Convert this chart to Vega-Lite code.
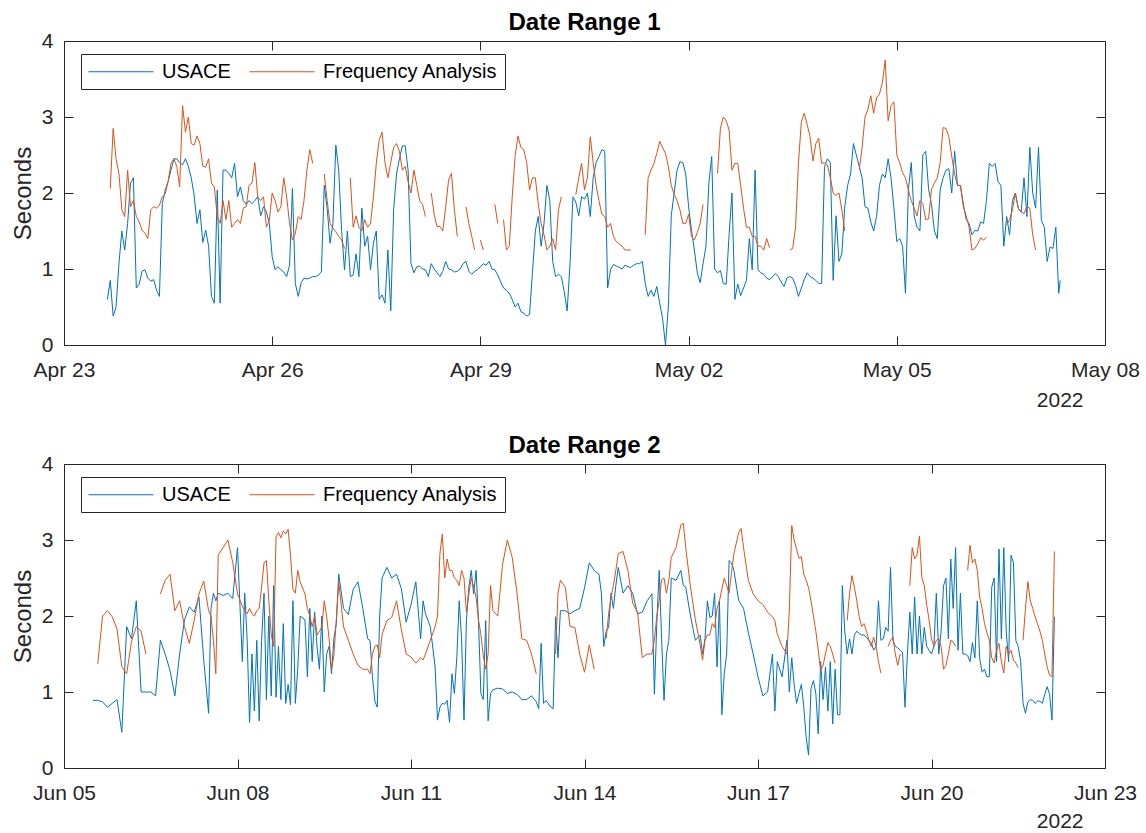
{
  "$schema": "https://vega.github.io/schema/vega-lite/v6.json",
  "padding": {"left": 11, "top": 11, "right": 0, "bottom": 0},
  "config": {
    "font": "Liberation Sans",
    "view": {"stroke": null},
    "axis": {"grid": false, "domainColor": "#262626", "tickColor": "#262626", "labelColor": "#262626", "titleColor": "#262626", "tickSize": -9, "tickWidth": 1, "domainWidth": 1, "labelFontSize": 21, "titleFontSize": 24, "titleFontWeight": "normal", "labelFlush": false, "labelOverlap": false, "labelBound": false},
    "title": {"fontSize": 24, "fontWeight": "bold", "color": "#000000", "anchor": "middle", "frame": "group", "baseline": "alphabetic", "offset": -5},
    "legend": {"orient": "none", "legendX": 17, "legendY": 13, "direction": "horizontal", "title": null, "symbolType": "M-1,0H5.5", "symbolSize": 400, "symbolStrokeWidth": 1, "labelFontSize": 20, "labelColor": "#000000", "labelOffset": 53, "columnPadding": 16, "padding": 7, "strokeColor": "#262626", "fillColor": "#ffffff", "labelLimit": 400}
  },
  "datasets": {
    "range1": [
      {"t":"2022-04-23T15:00","u":0.6,"f":null},{"t":"2022-04-23T16:00","u":0.85,"f":2.06},{"t":"2022-04-23T17:00","u":0.38,"f":2.85},{"t":"2022-04-23T18:00","u":0.5,"f":2.45},{"t":"2022-04-23T19:00","u":1.07,"f":2.26},{"t":"2022-04-23T20:00","u":1.5,"f":1.78},{"t":"2022-04-23T21:00","u":1.25,"f":1.69},{"t":"2022-04-23T22:00","u":1.6,"f":2.3},{"t":"2022-04-23T23:00","u":2.13,"f":1.82},
      {"t":"2022-04-24T00:00","u":2.2,"f":1.9},{"t":"2022-04-24T01:00","u":0.75,"f":1.69},{"t":"2022-04-24T02:00","u":0.8,"f":1.62},{"t":"2022-04-24T03:00","u":0.97,"f":1.51},{"t":"2022-04-24T04:00","u":0.99,"f":1.47},{"t":"2022-04-24T05:00","u":0.88,"f":1.4},{"t":"2022-04-24T06:00","u":0.84,"f":1.78},{"t":"2022-04-24T07:00","u":0.86,"f":1.82},{"t":"2022-04-24T08:00","u":0.72,"f":1.8},{"t":"2022-04-24T09:00","u":0.64,"f":1.84},{"t":"2022-04-24T10:00","u":1.86,"f":1.95},{"t":"2022-04-24T11:00","u":2.04,"f":1.99},{"t":"2022-04-24T12:00","u":2.15,"f":2.15},{"t":"2022-04-24T13:00","u":2.3,"f":2.39},{"t":"2022-04-24T14:00","u":2.45,"f":2.45},{"t":"2022-04-24T15:00","u":2.45,"f":2.35},{"t":"2022-04-24T16:00","u":2.4,"f":2.08},{"t":"2022-04-24T17:00","u":2.37,"f":3.15},{"t":"2022-04-24T18:00","u":2.45,"f":2.8},{"t":"2022-04-24T19:00","u":2.35,"f":3.0},{"t":"2022-04-24T20:00","u":2.2,"f":2.65},{"t":"2022-04-24T21:00","u":1.97,"f":2.63},{"t":"2022-04-24T22:00","u":1.6,"f":2.75},{"t":"2022-04-24T23:00","u":1.78,"f":2.65},
      {"t":"2022-04-25T00:00","u":1.35,"f":2.35},{"t":"2022-04-25T01:00","u":1.51,"f":2.34},{"t":"2022-04-25T02:00","u":1.3,"f":2.45},{"t":"2022-04-25T03:00","u":0.64,"f":2.13},{"t":"2022-04-25T04:00","u":0.55,"f":2.08},{"t":"2022-04-25T05:00","u":2.04,"f":1.69},{"t":"2022-04-25T06:00","u":0.55,"f":1.6},{"t":"2022-04-25T07:00","u":2.3,"f":1.9},{"t":"2022-04-25T08:00","u":2.3,"f":1.65},{"t":"2022-04-25T09:00","u":2.26,"f":1.9},{"t":"2022-04-25T10:00","u":2.2,"f":1.55},{"t":"2022-04-25T11:00","u":2.39,"f":1.6},{"t":"2022-04-25T12:00","u":1.95,"f":1.65},{"t":"2022-04-25T13:00","u":2.08,"f":1.6},{"t":"2022-04-25T14:00","u":1.9,"f":1.8},{"t":"2022-04-25T15:00","u":1.85,"f":1.82},{"t":"2022-04-25T16:00","u":1.9,"f":2.1},{"t":"2022-04-25T17:00","u":1.86,"f":2.13},{"t":"2022-04-25T18:00","u":1.9,"f":2.4},{"t":"2022-04-25T19:00","u":1.95,"f":1.95},{"t":"2022-04-25T20:00","u":1.7,"f":1.9},{"t":"2022-04-25T21:00","u":1.82,"f":1.95},{"t":"2022-04-25T22:00","u":1.75,"f":1.55},{"t":"2022-04-25T23:00","u":1.6,"f":1.64},
      {"t":"2022-04-26T00:00","u":1.16,"f":2.0},{"t":"2022-04-26T01:00","u":0.99,"f":1.9},{"t":"2022-04-26T02:00","u":1.03,"f":1.75},{"t":"2022-04-26T03:00","u":0.99,"f":1.82},{"t":"2022-04-26T04:00","u":0.96,"f":2.2},{"t":"2022-04-26T05:00","u":0.9,"f":1.95},{"t":"2022-04-26T06:00","u":1.05,"f":1.6},{"t":"2022-04-26T07:00","u":2.06,"f":1.38},{"t":"2022-04-26T08:00","u":0.81,"f":1.47},{"t":"2022-04-26T09:00","u":0.64,"f":1.69},{"t":"2022-04-26T10:00","u":0.82,"f":1.65},{"t":"2022-04-26T11:00","u":0.88,"f":1.9},{"t":"2022-04-26T12:00","u":0.87,"f":2.3},{"t":"2022-04-26T13:00","u":0.88,"f":2.57},{"t":"2022-04-26T14:00","u":0.9,"f":2.39},{"t":"2022-04-26T15:00","u":0.9,"f":null},{"t":"2022-04-26T16:00","u":0.92,"f":null},{"t":"2022-04-26T17:00","u":0.96,"f":null},{"t":"2022-04-26T18:00","u":2.1,"f":2.25},{"t":"2022-04-26T19:00","u":1.8,"f":1.9},{"t":"2022-04-26T20:00","u":1.34,"f":1.6},{"t":"2022-04-26T21:00","u":1.6,"f":1.54},{"t":"2022-04-26T22:00","u":2.63,"f":1.49},{"t":"2022-04-26T23:00","u":2.3,"f":1.43},
      {"t":"2022-04-27T00:00","u":1.51,"f":1.38},{"t":"2022-04-27T01:00","u":0.99,"f":1.27},{"t":"2022-04-27T02:00","u":1.5,"f":null},{"t":"2022-04-27T03:00","u":0.9,"f":2.2},{"t":"2022-04-27T04:00","u":0.92,"f":1.55},{"t":"2022-04-27T05:00","u":1.2,"f":1.7},{"t":"2022-04-27T06:00","u":0.9,"f":1.55},{"t":"2022-04-27T07:00","u":1.8,"f":1.5},{"t":"2022-04-27T08:00","u":1.3,"f":1.65},{"t":"2022-04-27T09:00","u":1.43,"f":1.55},{"t":"2022-04-27T10:00","u":0.99,"f":1.6},{"t":"2022-04-27T11:00","u":1.34,"f":1.95},{"t":"2022-04-27T12:00","u":1.5,"f":2.39},{"t":"2022-04-27T13:00","u":0.6,"f":2.7},{"t":"2022-04-27T14:00","u":0.66,"f":2.8},{"t":"2022-04-27T15:00","u":0.55,"f":2.4},{"t":"2022-04-27T16:00","u":1.25,"f":2.2},{"t":"2022-04-27T17:00","u":0.45,"f":2.4},{"t":"2022-04-27T18:00","u":1.78,"f":2.6},{"t":"2022-04-27T19:00","u":2.25,"f":2.65},{"t":"2022-04-27T20:00","u":2.45,"f":2.55},{"t":"2022-04-27T21:00","u":2.62,"f":2.3},{"t":"2022-04-27T22:00","u":2.62,"f":2.35},{"t":"2022-04-27T23:00","u":2.3,"f":2.15},
      {"t":"2022-04-28T00:00","u":1.07,"f":2.0},{"t":"2022-04-28T01:00","u":0.95,"f":2.3},{"t":"2022-04-28T02:00","u":1.03,"f":2.1},{"t":"2022-04-28T03:00","u":1.04,"f":1.9},{"t":"2022-04-28T04:00","u":1.0,"f":1.85},{"t":"2022-04-28T05:00","u":0.99,"f":1.69},{"t":"2022-04-28T06:00","u":0.9,"f":null},{"t":"2022-04-28T07:00","u":1.07,"f":2.0},{"t":"2022-04-28T08:00","u":1.0,"f":1.72},{"t":"2022-04-28T09:00","u":0.95,"f":1.56},{"t":"2022-04-28T10:00","u":0.9,"f":1.56},{"t":"2022-04-28T11:00","u":0.97,"f":1.5},{"t":"2022-04-28T12:00","u":1.1,"f":1.82},{"t":"2022-04-28T13:00","u":1.0,"f":2.17},{"t":"2022-04-28T14:00","u":0.99,"f":2.26},{"t":"2022-04-28T15:00","u":0.96,"f":1.78},{"t":"2022-04-28T16:00","u":0.97,"f":1.43},{"t":"2022-04-28T17:00","u":1.0,"f":null},{"t":"2022-04-28T18:00","u":1.07,"f":null},{"t":"2022-04-28T19:00","u":1.1,"f":1.82},{"t":"2022-04-28T20:00","u":0.97,"f":1.6},{"t":"2022-04-28T21:00","u":0.93,"f":1.43},{"t":"2022-04-28T22:00","u":0.97,"f":1.25},{"t":"2022-04-28T23:00","u":0.99,"f":null},
      {"t":"2022-04-29T00:00","u":1.03,"f":1.38},{"t":"2022-04-29T01:00","u":1.07,"f":1.25},{"t":"2022-04-29T02:00","u":1.05,"f":null},{"t":"2022-04-29T03:00","u":1.1,"f":null},{"t":"2022-04-29T04:00","u":1.0,"f":null},{"t":"2022-04-29T05:00","u":0.99,"f":1.85},{"t":"2022-04-29T06:00","u":0.92,"f":1.6},{"t":"2022-04-29T07:00","u":0.83,"f":null},{"t":"2022-04-29T08:00","u":0.75,"f":1.65},{"t":"2022-04-29T09:00","u":0.72,"f":1.25},{"t":"2022-04-29T10:00","u":0.68,"f":1.3},{"t":"2022-04-29T11:00","u":0.6,"f":1.95},{"t":"2022-04-29T12:00","u":0.5,"f":2.48},{"t":"2022-04-29T13:00","u":0.55,"f":2.75},{"t":"2022-04-29T14:00","u":0.44,"f":2.6},{"t":"2022-04-29T15:00","u":0.42,"f":2.57},{"t":"2022-04-29T16:00","u":0.38,"f":2.4},{"t":"2022-04-29T17:00","u":0.4,"f":2.04},{"t":"2022-04-29T18:00","u":0.95,"f":2.2},{"t":"2022-04-29T19:00","u":1.5,"f":2.2},{"t":"2022-04-29T20:00","u":1.69,"f":1.86},{"t":"2022-04-29T21:00","u":1.3,"f":1.6},{"t":"2022-04-29T22:00","u":1.6,"f":1.45},{"t":"2022-04-29T23:00","u":2.1,"f":1.25},
      {"t":"2022-04-30T00:00","u":1.9,"f":1.3},{"t":"2022-04-30T01:00","u":1.1,"f":1.4},{"t":"2022-04-30T02:00","u":0.9,"f":1.25},{"t":"2022-04-30T03:00","u":0.93,"f":1.78},{"t":"2022-04-30T04:00","u":0.9,"f":1.95},{"t":"2022-04-30T05:00","u":0.7,"f":null},{"t":"2022-04-30T06:00","u":0.45,"f":null},{"t":"2022-04-30T07:00","u":1.07,"f":null},{"t":"2022-04-30T08:00","u":1.95,"f":null},{"t":"2022-04-30T09:00","u":1.88,"f":1.98},{"t":"2022-04-30T10:00","u":1.7,"f":2.2},{"t":"2022-04-30T11:00","u":1.95,"f":2.39},{"t":"2022-04-30T12:00","u":1.92,"f":2.04},{"t":"2022-04-30T13:00","u":2.0,"f":2.2},{"t":"2022-04-30T14:00","u":1.69,"f":2.74},{"t":"2022-04-30T15:00","u":2.2,"f":2.4},{"t":"2022-04-30T16:00","u":2.4,"f":2.1},{"t":"2022-04-30T17:00","u":2.48,"f":1.9},{"t":"2022-04-30T18:00","u":2.57,"f":1.72},{"t":"2022-04-30T19:00","u":2.55,"f":1.69},{"t":"2022-04-30T20:00","u":0.75,"f":1.55},{"t":"2022-04-30T21:00","u":0.99,"f":1.6},{"t":"2022-04-30T22:00","u":1.06,"f":1.43},{"t":"2022-04-30T23:00","u":1.04,"f":1.36},
      {"t":"2022-05-01T00:00","u":1.02,"f":1.33},{"t":"2022-05-01T01:00","u":1.0,"f":1.3},{"t":"2022-05-01T02:00","u":1.05,"f":1.25},{"t":"2022-05-01T03:00","u":1.03,"f":1.25},{"t":"2022-05-01T04:00","u":1.02,"f":1.25},{"t":"2022-05-01T05:00","u":1.05,"f":null},{"t":"2022-05-01T06:00","u":1.07,"f":null},{"t":"2022-05-01T07:00","u":1.07,"f":null},{"t":"2022-05-01T08:00","u":1.1,"f":null},{"t":"2022-05-01T09:00","u":0.81,"f":1.45},{"t":"2022-05-01T10:00","u":0.64,"f":2.2},{"t":"2022-05-01T11:00","u":0.72,"f":2.3},{"t":"2022-05-01T12:00","u":0.64,"f":2.39},{"t":"2022-05-01T13:00","u":0.77,"f":2.52},{"t":"2022-05-01T14:00","u":0.55,"f":2.68},{"t":"2022-05-01T15:00","u":0.35,"f":2.6},{"t":"2022-05-01T16:00","u":0.0,"f":2.52},{"t":"2022-05-01T17:00","u":0.5,"f":2.35},{"t":"2022-05-01T18:00","u":1.7,"f":2.1},{"t":"2022-05-01T19:00","u":2.0,"f":1.98},{"t":"2022-05-01T20:00","u":2.3,"f":1.9},{"t":"2022-05-01T21:00","u":2.41,"f":1.78},{"t":"2022-05-01T22:00","u":2.4,"f":1.6},{"t":"2022-05-01T23:00","u":2.25,"f":1.6},
      {"t":"2022-05-02T00:00","u":1.82,"f":1.72},{"t":"2022-05-02T01:00","u":1.51,"f":1.43},{"t":"2022-05-02T02:00","u":1.25,"f":1.38},{"t":"2022-05-02T03:00","u":0.95,"f":1.48},{"t":"2022-05-02T04:00","u":0.82,"f":1.6},{"t":"2022-05-02T05:00","u":1.07,"f":1.85},{"t":"2022-05-02T06:00","u":1.3,"f":null},{"t":"2022-05-02T07:00","u":2.13,"f":null},{"t":"2022-05-02T08:00","u":2.48,"f":null},{"t":"2022-05-02T09:00","u":1.0,"f":null},{"t":"2022-05-02T10:00","u":0.95,"f":2.26},{"t":"2022-05-02T11:00","u":0.98,"f":2.85},{"t":"2022-05-02T12:00","u":0.81,"f":3.0},{"t":"2022-05-02T13:00","u":0.8,"f":2.95},{"t":"2022-05-02T14:00","u":1.45,"f":2.83},{"t":"2022-05-02T15:00","u":2.0,"f":2.3},{"t":"2022-05-02T16:00","u":0.6,"f":2.39},{"t":"2022-05-02T17:00","u":0.8,"f":2.39},{"t":"2022-05-02T18:00","u":0.65,"f":2.1},{"t":"2022-05-02T19:00","u":0.75,"f":1.8},{"t":"2022-05-02T20:00","u":0.85,"f":1.55},{"t":"2022-05-02T21:00","u":1.4,"f":1.55},{"t":"2022-05-02T22:00","u":0.99,"f":1.43},{"t":"2022-05-02T23:00","u":2.3,"f":1.43},
      {"t":"2022-05-03T00:00","u":0.99,"f":1.3},{"t":"2022-05-03T01:00","u":0.95,"f":1.3},{"t":"2022-05-03T02:00","u":0.93,"f":1.25},{"t":"2022-05-03T03:00","u":0.88,"f":1.4},{"t":"2022-05-03T04:00","u":0.86,"f":1.28},{"t":"2022-05-03T05:00","u":0.9,"f":null},{"t":"2022-05-03T06:00","u":0.94,"f":null},{"t":"2022-05-03T07:00","u":0.9,"f":null},{"t":"2022-05-03T08:00","u":0.83,"f":null},{"t":"2022-05-03T09:00","u":0.77,"f":null},{"t":"2022-05-03T10:00","u":0.88,"f":null},{"t":"2022-05-03T11:00","u":0.9,"f":1.25},{"t":"2022-05-03T12:00","u":0.88,"f":1.27},{"t":"2022-05-03T13:00","u":0.78,"f":1.55},{"t":"2022-05-03T14:00","u":0.64,"f":2.4},{"t":"2022-05-03T15:00","u":0.75,"f":2.94},{"t":"2022-05-03T16:00","u":0.86,"f":3.05},{"t":"2022-05-03T17:00","u":0.95,"f":2.9},{"t":"2022-05-03T18:00","u":0.9,"f":2.74},{"t":"2022-05-03T19:00","u":0.88,"f":2.42},{"t":"2022-05-03T20:00","u":0.85,"f":2.65},{"t":"2022-05-03T21:00","u":0.81,"f":2.72},{"t":"2022-05-03T22:00","u":0.81,"f":2.39},{"t":"2022-05-03T23:00","u":2.35,"f":2.4},
      {"t":"2022-05-04T00:00","u":2.45,"f":2.37},{"t":"2022-05-04T01:00","u":2.4,"f":2.2},{"t":"2022-05-04T02:00","u":0.85,"f":2.0},{"t":"2022-05-04T03:00","u":1.7,"f":1.97},{"t":"2022-05-04T04:00","u":1.1,"f":2.0},{"t":"2022-05-04T05:00","u":1.2,"f":1.78},{"t":"2022-05-04T06:00","u":1.82,"f":1.5},{"t":"2022-05-04T07:00","u":2.1,"f":null},{"t":"2022-05-04T08:00","u":2.25,"f":null},{"t":"2022-05-04T09:00","u":2.65,"f":null},{"t":"2022-05-04T10:00","u":2.5,"f":null},{"t":"2022-05-04T11:00","u":2.35,"f":2.3},{"t":"2022-05-04T12:00","u":2.2,"f":2.6},{"t":"2022-05-04T13:00","u":1.82,"f":3.0},{"t":"2022-05-04T14:00","u":1.8,"f":3.1},{"t":"2022-05-04T15:00","u":1.62,"f":3.28},{"t":"2022-05-04T16:00","u":1.5,"f":3.05},{"t":"2022-05-04T17:00","u":1.69,"f":3.25},{"t":"2022-05-04T18:00","u":2.1,"f":3.3},{"t":"2022-05-04T19:00","u":2.25,"f":3.45},{"t":"2022-05-04T20:00","u":2.2,"f":3.75},{"t":"2022-05-04T21:00","u":2.45,"f":2.95},{"t":"2022-05-04T22:00","u":2.2,"f":3.15},{"t":"2022-05-04T23:00","u":1.8,"f":3.2},
      {"t":"2022-05-05T00:00","u":1.36,"f":2.5},{"t":"2022-05-05T01:00","u":1.4,"f":2.4},{"t":"2022-05-05T02:00","u":1.3,"f":2.27},{"t":"2022-05-05T03:00","u":0.68,"f":2.2},{"t":"2022-05-05T04:00","u":2.04,"f":2.04},{"t":"2022-05-05T05:00","u":2.4,"f":1.9},{"t":"2022-05-05T06:00","u":1.7,"f":1.8},{"t":"2022-05-05T07:00","u":1.55,"f":1.7},{"t":"2022-05-05T08:00","u":1.5,"f":1.9},{"t":"2022-05-05T09:00","u":2.5,"f":1.86},{"t":"2022-05-05T10:00","u":2.55,"f":1.65},{"t":"2022-05-05T11:00","u":2.05,"f":1.66},{"t":"2022-05-05T12:00","u":1.85,"f":2.05},{"t":"2022-05-05T13:00","u":1.5,"f":2.13},{"t":"2022-05-05T14:00","u":1.4,"f":2.2},{"t":"2022-05-05T15:00","u":2.04,"f":2.4},{"t":"2022-05-05T16:00","u":2.2,"f":2.86},{"t":"2022-05-05T17:00","u":2.3,"f":2.85},{"t":"2022-05-05T18:00","u":2.32,"f":2.74},{"t":"2022-05-05T19:00","u":2.0,"f":2.48},{"t":"2022-05-05T20:00","u":2.55,"f":2.25},{"t":"2022-05-05T21:00","u":2.1,"f":2.1},{"t":"2022-05-05T22:00","u":2.1,"f":2.1},{"t":"2022-05-05T23:00","u":1.86,"f":1.82},
      {"t":"2022-05-06T00:00","u":1.65,"f":1.7},{"t":"2022-05-06T01:00","u":1.6,"f":1.55},{"t":"2022-05-06T02:00","u":1.45,"f":1.25},{"t":"2022-05-06T03:00","u":1.51,"f":1.27},{"t":"2022-05-06T04:00","u":1.5,"f":1.33},{"t":"2022-05-06T05:00","u":1.62,"f":1.41},{"t":"2022-05-06T06:00","u":1.6,"f":1.38},{"t":"2022-05-06T07:00","u":1.9,"f":1.42},{"t":"2022-05-06T08:00","u":2.39,"f":null},{"t":"2022-05-06T09:00","u":2.35,"f":null},{"t":"2022-05-06T10:00","u":2.39,"f":null},{"t":"2022-05-06T11:00","u":2.15,"f":null},{"t":"2022-05-06T12:00","u":2.1,"f":null},{"t":"2022-05-06T13:00","u":1.3,"f":null},{"t":"2022-05-06T14:00","u":1.69,"f":1.58},{"t":"2022-05-06T15:00","u":1.45,"f":1.65},{"t":"2022-05-06T16:00","u":1.9,"f":1.78},{"t":"2022-05-06T17:00","u":2.0,"f":2.0},{"t":"2022-05-06T18:00","u":1.8,"f":1.8},{"t":"2022-05-06T19:00","u":1.75,"f":1.75},{"t":"2022-05-06T20:00","u":2.2,"f":1.73},{"t":"2022-05-06T21:00","u":1.69,"f":1.82},{"t":"2022-05-06T22:00","u":2.6,"f":1.8},{"t":"2022-05-06T23:00","u":2.0,"f":1.45},
      {"t":"2022-05-07T00:00","u":1.8,"f":1.25},{"t":"2022-05-07T01:00","u":2.6,"f":null},{"t":"2022-05-07T02:00","u":1.64,"f":null},{"t":"2022-05-07T03:00","u":1.55,"f":null},{"t":"2022-05-07T04:00","u":1.1,"f":null},{"t":"2022-05-07T05:00","u":1.29,"f":null},{"t":"2022-05-07T06:00","u":1.27,"f":null},{"t":"2022-05-07T07:00","u":1.55,"f":null},{"t":"2022-05-07T08:00","u":0.68,"f":null},{"t":"2022-05-07T08:30","u":0.85,"f":null}
    ],
    "range2": [
      {"t":"2022-06-05T12:00","u":0.89,"f":null},{"t":"2022-06-05T14:00","u":0.89,"f":1.37},{"t":"2022-06-05T16:00","u":0.87,"f":2.0},{"t":"2022-06-05T18:00","u":0.8,"f":2.07},{"t":"2022-06-05T20:00","u":0.85,"f":1.99},{"t":"2022-06-05T22:00","u":0.9,"f":1.83},
      {"t":"2022-06-06T00:00","u":0.47,"f":1.33},{"t":"2022-06-06T02:00","u":1.86,"f":1.24},{"t":"2022-06-06T04:00","u":1.7,"f":1.66},{"t":"2022-06-06T06:00","u":2.2,"f":1.86},{"t":"2022-06-06T08:00","u":1.0,"f":1.8},{"t":"2022-06-06T10:00","u":1.0,"f":1.5},{"t":"2022-06-06T12:00","u":1.0,"f":null},{"t":"2022-06-06T14:00","u":0.95,"f":null},{"t":"2022-06-06T16:00","u":1.68,"f":2.29},{"t":"2022-06-06T18:00","u":1.5,"f":2.47},{"t":"2022-06-06T20:00","u":1.28,"f":2.55},{"t":"2022-06-06T22:00","u":0.95,"f":2.07},
      {"t":"2022-06-07T00:00","u":1.5,"f":2.2},{"t":"2022-06-07T02:00","u":1.95,"f":1.86},{"t":"2022-06-07T04:00","u":2.12,"f":1.64},{"t":"2022-06-07T06:00","u":2.05,"f":1.94},{"t":"2022-06-07T08:00","u":2.25,"f":2.29},{"t":"2022-06-07T10:00","u":1.42,"f":2.46},{"t":"2022-06-07T12:00","u":0.72,"f":2.07},{"t":"2022-06-07T13:00","u":2.1,"f":2.0},{"t":"2022-06-07T14:00","u":2.3,"f":1.68},{"t":"2022-06-07T15:00","u":2.2,"f":1.24},{"t":"2022-06-07T16:00","u":2.3,"f":2.8},{"t":"2022-06-07T18:00","u":2.27,"f":2.9},{"t":"2022-06-07T20:00","u":2.3,"f":3.0},{"t":"2022-06-07T22:00","u":2.23,"f":2.71},
      {"t":"2022-06-08T00:00","u":2.9,"f":2.29},{"t":"2022-06-08T02:00","u":1.4,"f":2.13},{"t":"2022-06-08T03:00","u":2.3,"f":2.07},{"t":"2022-06-08T04:00","u":1.7,"f":2.03},{"t":"2022-06-08T05:00","u":0.6,"f":2.1},{"t":"2022-06-08T06:00","u":1.5,"f":2.03},{"t":"2022-06-08T07:00","u":0.75,"f":2.0},{"t":"2022-06-08T08:00","u":1.68,"f":2.07},{"t":"2022-06-08T09:00","u":0.62,"f":2.1},{"t":"2022-06-08T10:00","u":1.68,"f":2.38},{"t":"2022-06-08T11:00","u":2.3,"f":2.7},{"t":"2022-06-08T12:00","u":0.9,"f":2.73},{"t":"2022-06-08T13:00","u":2.0,"f":2.2},{"t":"2022-06-08T14:00","u":0.95,"f":1.75},{"t":"2022-06-08T15:00","u":2.4,"f":1.6},{"t":"2022-06-08T16:00","u":0.93,"f":3.04},{"t":"2022-06-08T17:00","u":1.6,"f":3.1},{"t":"2022-06-08T18:00","u":0.9,"f":3.03},{"t":"2022-06-08T19:00","u":1.9,"f":3.12},{"t":"2022-06-08T20:00","u":0.85,"f":3.08},{"t":"2022-06-08T21:00","u":1.1,"f":3.14},{"t":"2022-06-08T22:00","u":0.83,"f":2.8},{"t":"2022-06-08T23:00","u":2.2,"f":2.35},
      {"t":"2022-06-09T00:00","u":0.85,"f":2.3},{"t":"2022-06-09T01:00","u":1.3,"f":2.6},{"t":"2022-06-09T02:00","u":2.0,"f":2.45},{"t":"2022-06-09T04:00","u":1.95,"f":2.29},{"t":"2022-06-09T05:00","u":1.2,"f":2.1},{"t":"2022-06-09T06:00","u":2.1,"f":2.0},{"t":"2022-06-09T07:00","u":1.4,"f":1.86},{"t":"2022-06-09T08:00","u":2.05,"f":2.0},{"t":"2022-06-09T09:00","u":1.6,"f":1.75},{"t":"2022-06-09T10:00","u":1.3,"f":1.8},{"t":"2022-06-09T11:00","u":2.0,"f":1.85},{"t":"2022-06-09T12:00","u":1.0,"f":2.2},{"t":"2022-06-09T13:00","u":1.5,"f":2.0},{"t":"2022-06-09T14:00","u":1.6,"f":1.7},{"t":"2022-06-09T15:00","u":1.24,"f":1.3},{"t":"2022-06-09T16:00","u":1.7,"f":1.48},{"t":"2022-06-09T17:00","u":1.9,"f":1.95},{"t":"2022-06-09T18:00","u":2.55,"f":2.45},{"t":"2022-06-09T20:00","u":2.1,"f":1.86},{"t":"2022-06-09T22:00","u":2.02,"f":1.68},
      {"t":"2022-06-10T00:00","u":2.35,"f":1.5},{"t":"2022-06-10T02:00","u":2.45,"f":1.35},{"t":"2022-06-10T04:00","u":2.1,"f":1.3},{"t":"2022-06-10T06:00","u":1.7,"f":1.3},{"t":"2022-06-10T07:00","u":1.68,"f":1.24},{"t":"2022-06-10T08:00","u":1.2,"f":1.5},{"t":"2022-06-10T09:00","u":0.88,"f":1.6},{"t":"2022-06-10T10:00","u":0.8,"f":1.62},{"t":"2022-06-10T11:00","u":2.0,"f":1.45},{"t":"2022-06-10T12:00","u":2.5,"f":1.76},{"t":"2022-06-10T14:00","u":2.64,"f":1.94},{"t":"2022-06-10T16:00","u":2.5,"f":1.98},{"t":"2022-06-10T18:00","u":2.55,"f":2.2},{"t":"2022-06-10T20:00","u":2.36,"f":1.82},{"t":"2022-06-10T22:00","u":1.92,"f":1.5},
      {"t":"2022-06-11T00:00","u":2.15,"f":1.46},{"t":"2022-06-11T02:00","u":2.45,"f":1.38},{"t":"2022-06-11T04:00","u":1.7,"f":1.45},{"t":"2022-06-11T05:00","u":2.2,"f":1.42},{"t":"2022-06-11T06:00","u":2.03,"f":1.5},{"t":"2022-06-11T08:00","u":1.86,"f":1.68},{"t":"2022-06-11T10:00","u":1.33,"f":1.86},{"t":"2022-06-11T11:00","u":0.63,"f":2.0},{"t":"2022-06-11T12:00","u":0.8,"f":2.82},{"t":"2022-06-11T13:00","u":0.85,"f":3.08},{"t":"2022-06-11T14:00","u":0.84,"f":2.5},{"t":"2022-06-11T15:00","u":0.89,"f":2.75},{"t":"2022-06-11T16:00","u":0.6,"f":2.6},{"t":"2022-06-11T17:00","u":1.24,"f":2.6},{"t":"2022-06-11T18:00","u":0.98,"f":2.5},{"t":"2022-06-11T19:00","u":1.45,"f":2.47},{"t":"2022-06-11T20:00","u":2.2,"f":2.4},{"t":"2022-06-11T21:00","u":1.7,"f":2.6},{"t":"2022-06-11T22:00","u":0.63,"f":2.5},{"t":"2022-06-11T23:00","u":1.94,"f":2.05},
      {"t":"2022-06-12T00:00","u":2.38,"f":2.29},{"t":"2022-06-12T01:00","u":2.6,"f":2.5},{"t":"2022-06-12T02:00","u":2.29,"f":2.38},{"t":"2022-06-12T03:00","u":2.6,"f":2.25},{"t":"2022-06-12T04:00","u":1.94,"f":1.95},{"t":"2022-06-12T05:00","u":0.98,"f":1.76},{"t":"2022-06-12T06:00","u":0.9,"f":1.48},{"t":"2022-06-12T07:00","u":1.94,"f":1.3},{"t":"2022-06-12T08:00","u":0.62,"f":1.5},{"t":"2022-06-12T09:00","u":0.98,"f":2.4},{"t":"2022-06-12T10:00","u":1.03,"f":2.07},{"t":"2022-06-12T12:00","u":1.05,"f":2.0},{"t":"2022-06-12T14:00","u":1.04,"f":2.68},{"t":"2022-06-12T16:00","u":0.98,"f":3.0},{"t":"2022-06-12T18:00","u":1.0,"f":2.77},{"t":"2022-06-12T20:00","u":0.97,"f":2.3},{"t":"2022-06-12T22:00","u":0.9,"f":1.7},
      {"t":"2022-06-13T00:00","u":0.9,"f":1.68},{"t":"2022-06-13T02:00","u":0.95,"f":1.5},{"t":"2022-06-13T04:00","u":0.87,"f":1.24},{"t":"2022-06-13T05:00","u":0.78,"f":null},{"t":"2022-06-13T06:00","u":1.64,"f":null},{"t":"2022-06-13T07:00","u":0.85,"f":null},{"t":"2022-06-13T08:00","u":0.89,"f":null},{"t":"2022-06-13T10:00","u":0.8,"f":null},{"t":"2022-06-13T11:00","u":0.78,"f":null},{"t":"2022-06-13T12:00","u":1.99,"f":1.5},{"t":"2022-06-13T13:00","u":1.45,"f":2.3},{"t":"2022-06-13T14:00","u":2.07,"f":2.47},{"t":"2022-06-13T16:00","u":2.07,"f":2.38},{"t":"2022-06-13T18:00","u":2.03,"f":1.86},{"t":"2022-06-13T20:00","u":2.07,"f":1.85},{"t":"2022-06-13T22:00","u":2.1,"f":1.5},
      {"t":"2022-06-14T00:00","u":2.37,"f":1.26},{"t":"2022-06-14T02:00","u":2.7,"f":1.62},{"t":"2022-06-14T04:00","u":2.6,"f":1.3},{"t":"2022-06-14T06:00","u":2.55,"f":null},{"t":"2022-06-14T07:00","u":2.3,"f":null},{"t":"2022-06-14T08:00","u":1.6,"f":null},{"t":"2022-06-14T09:00","u":1.8,"f":1.7},{"t":"2022-06-14T10:00","u":1.85,"f":2.03},{"t":"2022-06-14T11:00","u":2.3,"f":2.25},{"t":"2022-06-14T12:00","u":2.1,"f":2.4},{"t":"2022-06-14T13:00","u":2.4,"f":2.6},{"t":"2022-06-14T14:00","u":2.64,"f":2.82},{"t":"2022-06-14T16:00","u":2.3,"f":2.85},{"t":"2022-06-14T18:00","u":2.4,"f":2.6},{"t":"2022-06-14T20:00","u":2.3,"f":2.17},{"t":"2022-06-14T22:00","u":2.03,"f":2.05},
      {"t":"2022-06-15T00:00","u":2.05,"f":1.45},{"t":"2022-06-15T02:00","u":2.2,"f":1.5},{"t":"2022-06-15T04:00","u":2.29,"f":1.5},{"t":"2022-06-15T05:00","u":0.97,"f":1.68},{"t":"2022-06-15T06:00","u":1.9,"f":2.0},{"t":"2022-06-15T07:00","u":2.6,"f":2.2},{"t":"2022-06-15T08:00","u":1.7,"f":2.48},{"t":"2022-06-15T09:00","u":0.89,"f":2.5},{"t":"2022-06-15T10:00","u":1.5,"f":2.3},{"t":"2022-06-15T11:00","u":1.68,"f":2.47},{"t":"2022-06-15T12:00","u":2.5,"f":2.77},{"t":"2022-06-15T14:00","u":2.47,"f":2.9},{"t":"2022-06-15T16:00","u":2.6,"f":3.2},{"t":"2022-06-15T17:00","u":2.4,"f":3.22},{"t":"2022-06-15T18:00","u":2.38,"f":2.9},{"t":"2022-06-15T20:00","u":2.0,"f":2.38},{"t":"2022-06-15T22:00","u":1.68,"f":1.95},
      {"t":"2022-06-16T00:00","u":1.75,"f":1.62},{"t":"2022-06-16T01:00","u":1.5,"f":1.42},{"t":"2022-06-16T02:00","u":1.7,"f":1.68},{"t":"2022-06-16T03:00","u":2.2,"f":1.75},{"t":"2022-06-16T04:00","u":1.98,"f":1.75},{"t":"2022-06-16T05:00","u":2.0,"f":1.9},{"t":"2022-06-16T06:00","u":2.3,"f":1.85},{"t":"2022-06-16T07:00","u":1.33,"f":2.1},{"t":"2022-06-16T08:00","u":2.2,"f":2.2},{"t":"2022-06-16T09:00","u":0.7,"f":2.35},{"t":"2022-06-16T10:00","u":1.24,"f":2.5},{"t":"2022-06-16T11:00","u":1.5,"f":2.4},{"t":"2022-06-16T12:00","u":2.73,"f":2.3},{"t":"2022-06-16T13:00","u":2.7,"f":2.57},{"t":"2022-06-16T14:00","u":2.6,"f":2.82},{"t":"2022-06-16T16:00","u":2.2,"f":3.1},{"t":"2022-06-16T17:00","u":2.15,"f":3.15},{"t":"2022-06-16T18:00","u":2.1,"f":2.9},{"t":"2022-06-16T20:00","u":1.78,"f":2.47},{"t":"2022-06-16T22:00","u":1.5,"f":2.29},
      {"t":"2022-06-17T00:00","u":1.2,"f":2.2},{"t":"2022-06-17T02:00","u":0.95,"f":2.15},{"t":"2022-06-17T04:00","u":1.0,"f":2.05},{"t":"2022-06-17T06:00","u":1.5,"f":1.99},{"t":"2022-06-17T07:00","u":0.75,"f":1.94},{"t":"2022-06-17T08:00","u":1.4,"f":1.76},{"t":"2022-06-17T10:00","u":1.2,"f":1.6},{"t":"2022-06-17T12:00","u":1.68,"f":1.5},{"t":"2022-06-17T13:00","u":1.0,"f":2.07},{"t":"2022-06-17T14:00","u":1.45,"f":3.19},{"t":"2022-06-17T15:00","u":1.1,"f":3.0},{"t":"2022-06-17T16:00","u":0.85,"f":2.88},{"t":"2022-06-17T17:00","u":0.98,"f":2.76},{"t":"2022-06-17T18:00","u":1.1,"f":2.78},{"t":"2022-06-17T19:00","u":0.8,"f":2.55},{"t":"2022-06-17T20:00","u":0.4,"f":2.47},{"t":"2022-06-17T21:00","u":0.17,"f":2.37},{"t":"2022-06-17T22:00","u":1.05,"f":2.2},{"t":"2022-06-17T23:00","u":1.15,"f":2.0},
      {"t":"2022-06-18T00:00","u":0.98,"f":1.8},{"t":"2022-06-18T01:00","u":0.45,"f":1.55},{"t":"2022-06-18T02:00","u":1.4,"f":1.28},{"t":"2022-06-18T03:00","u":0.9,"f":1.35},{"t":"2022-06-18T04:00","u":1.33,"f":1.5},{"t":"2022-06-18T05:00","u":0.75,"f":1.65},{"t":"2022-06-18T06:00","u":1.4,"f":1.6},{"t":"2022-06-18T07:00","u":0.58,"f":1.5},{"t":"2022-06-18T08:00","u":1.3,"f":1.38},{"t":"2022-06-18T09:00","u":0.7,"f":null},{"t":"2022-06-18T10:00","u":0.7,"f":null},{"t":"2022-06-18T11:00","u":2.4,"f":null},{"t":"2022-06-18T12:00","u":1.8,"f":null},{"t":"2022-06-18T13:00","u":1.5,"f":1.94},{"t":"2022-06-18T14:00","u":1.7,"f":2.3},{"t":"2022-06-18T15:00","u":1.5,"f":2.53},{"t":"2022-06-18T16:00","u":1.75,"f":2.38},{"t":"2022-06-18T17:00","u":1.8,"f":2.2},{"t":"2022-06-18T18:00","u":1.77,"f":1.99},{"t":"2022-06-18T19:00","u":1.75,"f":1.86},{"t":"2022-06-18T20:00","u":1.75,"f":1.9},{"t":"2022-06-18T21:00","u":1.72,"f":1.8},{"t":"2022-06-18T22:00","u":1.68,"f":1.68},{"t":"2022-06-18T23:00","u":1.65,"f":1.6},
      {"t":"2022-06-19T00:00","u":1.55,"f":1.72},{"t":"2022-06-19T01:00","u":1.6,"f":1.6},{"t":"2022-06-19T02:00","u":2.2,"f":1.4},{"t":"2022-06-19T03:00","u":1.68,"f":1.25},{"t":"2022-06-19T04:00","u":1.7,"f":null},{"t":"2022-06-19T05:00","u":1.85,"f":null},{"t":"2022-06-19T06:00","u":1.8,"f":1.6},{"t":"2022-06-19T07:00","u":2.64,"f":1.68},{"t":"2022-06-19T08:00","u":1.68,"f":1.72},{"t":"2022-06-19T09:00","u":1.6,"f":1.5},{"t":"2022-06-19T10:00","u":1.58,"f":1.35},{"t":"2022-06-19T11:00","u":1.55,"f":1.5},{"t":"2022-06-19T12:00","u":1.52,"f":null},{"t":"2022-06-19T13:00","u":0.8,"f":null},{"t":"2022-06-19T14:00","u":1.5,"f":null},{"t":"2022-06-19T15:00","u":2.05,"f":2.4},{"t":"2022-06-19T16:00","u":1.5,"f":2.9},{"t":"2022-06-19T17:00","u":2.25,"f":2.75},{"t":"2022-06-19T18:00","u":1.5,"f":2.8},{"t":"2022-06-19T19:00","u":2.0,"f":3.05},{"t":"2022-06-19T20:00","u":1.5,"f":2.5},{"t":"2022-06-19T21:00","u":1.85,"f":2.4},{"t":"2022-06-19T22:00","u":1.6,"f":2.15},{"t":"2022-06-19T23:00","u":1.55,"f":1.95},
      {"t":"2022-06-20T00:00","u":1.5,"f":1.7},{"t":"2022-06-20T01:00","u":1.6,"f":1.6},{"t":"2022-06-20T02:00","u":2.3,"f":1.68},{"t":"2022-06-20T03:00","u":1.5,"f":1.7},{"t":"2022-06-20T04:00","u":1.8,"f":1.6},{"t":"2022-06-20T05:00","u":2.4,"f":1.3},{"t":"2022-06-20T06:00","u":2.5,"f":1.35},{"t":"2022-06-20T07:00","u":1.7,"f":1.5},{"t":"2022-06-20T08:00","u":2.75,"f":1.68},{"t":"2022-06-20T09:00","u":2.1,"f":1.66},{"t":"2022-06-20T10:00","u":2.9,"f":1.6},{"t":"2022-06-20T11:00","u":1.55,"f":null},{"t":"2022-06-20T12:00","u":2.3,"f":null},{"t":"2022-06-20T13:00","u":1.5,"f":null},{"t":"2022-06-20T14:00","u":1.5,"f":null},{"t":"2022-06-20T15:00","u":1.48,"f":2.6},{"t":"2022-06-20T16:00","u":1.4,"f":2.93},{"t":"2022-06-20T17:00","u":1.65,"f":2.7},{"t":"2022-06-20T18:00","u":1.45,"f":2.75},{"t":"2022-06-20T19:00","u":2.2,"f":2.6},{"t":"2022-06-20T20:00","u":1.44,"f":2.25},{"t":"2022-06-20T21:00","u":1.26,"f":2.1},{"t":"2022-06-20T22:00","u":1.3,"f":1.9},{"t":"2022-06-20T23:00","u":1.2,"f":1.78},
      {"t":"2022-06-21T00:00","u":1.2,"f":1.68},{"t":"2022-06-21T01:00","u":2.38,"f":1.45},{"t":"2022-06-21T02:00","u":2.5,"f":1.38},{"t":"2022-06-21T03:00","u":1.4,"f":1.55},{"t":"2022-06-21T04:00","u":2.88,"f":1.64},{"t":"2022-06-21T05:00","u":1.7,"f":1.4},{"t":"2022-06-21T06:00","u":2.9,"f":1.25},{"t":"2022-06-21T07:00","u":1.8,"f":1.6},{"t":"2022-06-21T08:00","u":1.4,"f":1.5},{"t":"2022-06-21T09:00","u":2.8,"f":1.55},{"t":"2022-06-21T10:00","u":2.7,"f":1.42},{"t":"2022-06-21T11:00","u":1.68,"f":1.38},{"t":"2022-06-21T12:00","u":1.6,"f":1.32},{"t":"2022-06-21T13:00","u":1.4,"f":null},{"t":"2022-06-21T14:00","u":0.85,"f":1.68},{"t":"2022-06-21T15:00","u":0.72,"f":2.1},{"t":"2022-06-21T16:00","u":0.87,"f":2.45},{"t":"2022-06-21T17:00","u":0.9,"f":2.2},{"t":"2022-06-21T18:00","u":0.89,"f":2.1},{"t":"2022-06-21T19:00","u":0.85,"f":1.99},{"t":"2022-06-21T20:00","u":0.88,"f":1.9},{"t":"2022-06-21T21:00","u":0.88,"f":1.8},{"t":"2022-06-21T22:00","u":0.85,"f":1.68},{"t":"2022-06-21T23:00","u":0.97,"f":1.5},
      {"t":"2022-06-22T00:00","u":1.07,"f":1.33},{"t":"2022-06-22T01:00","u":0.97,"f":1.22},{"t":"2022-06-22T02:00","u":0.63,"f":1.2},{"t":"2022-06-22T03:00","u":1.99,"f":2.85}
    ]
  },
  "vconcat": [
    {
      "title": {"text": "Date Range 1"},
      "width": 1041,
      "height": 304,
      "data": {"name": "range1"},
      "layer": [
        {
          "mark": {"type": "line", "strokeWidth": 1, "invalid": "break-paths-filter-domains"},
          "encoding": {
            "x": {"field": "t", "type": "temporal",
              "scale": {"domain": [{"year": 2022, "month": "apr", "date": 23}, {"year": 2022, "month": "may", "date": 8}]},
              "axis": {"orient": "bottom", "format": "%b %d", "labelPadding": 23,
                "values": [{"year": 2022, "month": "apr", "date": 23}, {"year": 2022, "month": "apr", "date": 26}, {"year": 2022, "month": "apr", "date": 29}, {"year": 2022, "month": "may", "date": 2}, {"year": 2022, "month": "may", "date": 5}, {"year": 2022, "month": "may", "date": 8}],
                "title": "2022", "titleFontSize": 21, "titleX": 1019, "titleY": 61, "titleAlign": "right", "titleBaseline": "alphabetic"}},
            "y": {"field": "u", "type": "quantitative", "scale": {"domain": [0, 4], "nice": false},
              "axis": {"orient": "left", "values": [0, 1, 2, 3, 4], "labelPadding": 20, "title": "Seconds", "titleAngle": 270, "titleX": -34, "titleY": 152, "titleAlign": "center", "titleBaseline": "alphabetic"}},
            "color": {"datum": "USACE", "scale": {"domain": ["USACE", "Frequency Analysis"], "range": ["#0072BD", "#D95319"]}}
          }
        },
        {
          "mark": {"type": "line", "strokeWidth": 1, "invalid": "break-paths-filter-domains"},
          "encoding": {
            "x": {"field": "t", "type": "temporal",
              "axis": {"orient": "top", "labels": false, "title": null,
                "values": [{"year": 2022, "month": "apr", "date": 23}, {"year": 2022, "month": "apr", "date": 26}, {"year": 2022, "month": "apr", "date": 29}, {"year": 2022, "month": "may", "date": 2}, {"year": 2022, "month": "may", "date": 5}, {"year": 2022, "month": "may", "date": 8}]}},
            "y": {"field": "f", "type": "quantitative", "axis": {"orient": "right", "labels": false, "title": null, "values": [0, 1, 2, 3, 4]}},
            "color": {"datum": "Frequency Analysis"}
          }
        }
      ]
    },
    {
      "title": {"text": "Date Range 2"},
      "width": 1041,
      "height": 304,
      "data": {"name": "range2"},
      "layer": [
        {
          "mark": {"type": "line", "strokeWidth": 1, "invalid": "break-paths-filter-domains"},
          "encoding": {
            "x": {"field": "t", "type": "temporal",
              "scale": {"domain": [{"year": 2022, "month": "jun", "date": 5}, {"year": 2022, "month": "jun", "date": 23}]},
              "axis": {"orient": "bottom", "format": "%b %d", "labelPadding": 23,
                "values": [{"year": 2022, "month": "jun", "date": 5}, {"year": 2022, "month": "jun", "date": 8}, {"year": 2022, "month": "jun", "date": 11}, {"year": 2022, "month": "jun", "date": 14}, {"year": 2022, "month": "jun", "date": 17}, {"year": 2022, "month": "jun", "date": 20}, {"year": 2022, "month": "jun", "date": 23}],
                "title": "2022", "titleFontSize": 21, "titleX": 1019, "titleY": 59, "titleAlign": "right", "titleBaseline": "alphabetic"}},
            "y": {"field": "u", "type": "quantitative", "scale": {"domain": [0, 4], "nice": false},
              "axis": {"orient": "left", "values": [0, 1, 2, 3, 4], "labelPadding": 20, "title": "Seconds", "titleAngle": 270, "titleX": -34, "titleY": 152, "titleAlign": "center", "titleBaseline": "alphabetic"}},
            "color": {"datum": "USACE", "scale": {"domain": ["USACE", "Frequency Analysis"], "range": ["#0072BD", "#D95319"]}}
          }
        },
        {
          "mark": {"type": "line", "strokeWidth": 1, "invalid": "break-paths-filter-domains"},
          "encoding": {
            "x": {"field": "t", "type": "temporal",
              "axis": {"orient": "top", "labels": false, "title": null,
                "values": [{"year": 2022, "month": "jun", "date": 5}, {"year": 2022, "month": "jun", "date": 8}, {"year": 2022, "month": "jun", "date": 11}, {"year": 2022, "month": "jun", "date": 14}, {"year": 2022, "month": "jun", "date": 17}, {"year": 2022, "month": "jun", "date": 20}, {"year": 2022, "month": "jun", "date": 23}]}},
            "y": {"field": "f", "type": "quantitative", "axis": {"orient": "right", "labels": false, "title": null, "values": [0, 1, 2, 3, 4]}},
            "color": {"datum": "Frequency Analysis"}
          }
        }
      ]
    }
  ],
  "spacing": 24,
  "resolve": {"scale": {"x": "independent", "color": "independent"}, "legend": {"color": "independent"}}
}
